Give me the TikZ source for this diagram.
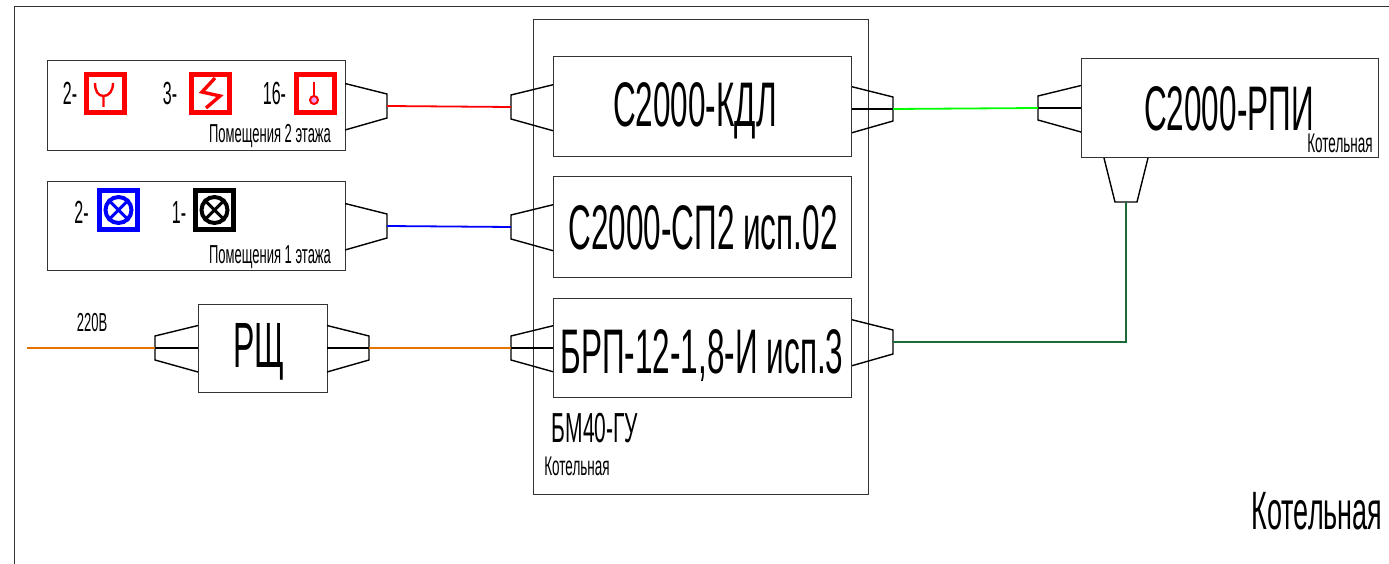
\documentclass[tikz,border=0pt]{standalone}
\usepackage{fontspec}
\setmainfont[FakeStretch=0.5]{Liberation Sans}
\usetikzlibrary{calc}
\definecolor{zelen}{RGB}{26,107,56}
\definecolor{oranzh}{RGB}{230,115,0}
\definecolor{rozov}{RGB}{240,160,240}
\tikzset{
  blok/.style   = {rectangle, draw=black!80, line width=1pt, fill=white, inner sep=0},
  lbl/.style    = {inner sep=0, anchor=base, text=black},
  num/.style    = {lbl, font=\fontsize{32}{32}\selectfont},
  znak/.style   = {rectangle, draw, line width=5pt, fill=white, minimum size=38pt, inner sep=0},
  krug/.style   = {circle, draw, line width=4pt, minimum size=26pt, inner sep=0},
  link/.style   = {line width=1.8pt},
  conn/.style   = {line width=1.4pt, black}
}
% connector shells on the side of a box, the middle of that side is given
\newcommand{\konL}[1]{\draw[conn] ($(#1)+(0,-22.5)$) -- ++(-43,10.5) -- ++(0,24) -- ++(43,12);}
\newcommand{\konR}[1]{\draw[conn] ($(#1)+(0,-22.5)$) -- ++(42,10.5) -- ++(0,24) -- ++(-42,12);}
\newcommand{\midL}[1]{\draw[conn] ($(#1)+(-43,0)$) -- (#1);}
\newcommand{\midR}[1]{\draw[conn] ($(#1)+(42,0)$) -- (#1);}
\begin{document}
\begin{tikzpicture}[x=1pt,y=-1pt]
  \useasboundingbox (0,0) rectangle (1389,564);
  \coordinate (fl) at (14,564); \coordinate (fc) at (14,7); \coordinate (fr) at (1389,7);
  \draw[line width=1pt, black!80] (fl) -- (fc) -- (fr);

  \node[blok, minimum width=335pt, minimum height=474pt] (bm) at (700.5,257) {};
  \node[blok, minimum width=298pt, minimum height=90pt] (p2) at (196,106) {};
  \node[blok, minimum width=298pt, minimum height=88pt] (p1) at (196,226) {};
  \node[blok, minimum width=129pt, minimum height=88pt] (rsh) at (262.5,348) {};

  % connectors
  \coordinate (p2r) at (345,106); \coordinate (p1r) at (345,226);
  \coordinate (rl) at (198,348); \coordinate (rr) at (327,348);
  \coordinate (kl) at (554,107); \coordinate (kr) at (851,109);
  \coordinate (sl) at (554,227); \coordinate (bl) at (554,348); \coordinate (br) at (851,342);
  \coordinate (rpl) at (1081,108); \coordinate (rd) at (1126,158);
  \konR{p2r} \konR{p1r} \konR{rr} \konR{kr} \konR{br}
  \konL{rl} \konL{kl} \konL{sl} \konL{bl} \konL{rpl}
  \midR{rr} \midR{kr} \midL{rl} \midL{bl} \midL{rpl}
  \draw[conn] ($(rd)+(-22,0)$) -- ++(11,44) -- ++(22,0) -- ++(11,-44);

  \node[blok, minimum width=298pt, minimum height=100pt] (kdl) at (702,107) {};
  \node[blok, minimum width=298pt, minimum height=100pt] (sp) at (702,227) {};
  \node[blok, minimum width=298pt, minimum height=99pt] (brp) at (702,347.5) {};
  \node[blok, minimum width=297pt, minimum height=99pt] (rpi) at (1229.5,108.5) {};

  % wires
  \coordinate (v220) at (27,348);
  \draw[link, red] ($(p2r)+(42,0)$) -- ($(kl)+(-43,0)$);
  \draw[link, blue] ($(p1r)+(42,0)$) -- ($(sl)+(-43,0)$);
  \draw[link, oranzh] (v220) -- ($(rl)+(-43,0)$);
  \draw[link, oranzh] ($(rr)+(42,0)$) -- ($(bl)+(-43,0)$);
  \draw[link, green] ($(kr)+(42,0)$) -- ($(rpl)+(-43,0)$);
  \draw[link, zelen] ($(br)+(42,0)$) -| ($(rd)+(0,44)$);

  % signs
  \node[znak, draw=red] (s1) at (105.5,93.5) {};
  \draw[red, line width=2.4pt] (103.5,107) -- (103.5,96) (95,83) .. controls (95,91) and (98,96) .. (103.5,96) .. controls (109,96) and (113,91) .. (113,83);
  \node[znak, draw=red] (s2) at (210,93.5) {};
  \draw[red, line width=3.4pt] (215,78) -- (202,92) -- (220,96) -- (206,108);
  \node[znak, draw=red] (s3) at (315,93.5) {};
  \draw[red, line width=2pt] (314,82) -- (314,96);
  \node[circle, draw=red, line width=2pt, fill=rozov, minimum size=8pt, inner sep=0] (s3c) at (314,100) {};
  \node[znak, draw=blue] (s4) at (118.5,210) {};
  \node[krug, draw=blue] (s4c) at (118.5,210) {};
  \draw[blue, line width=3pt] (s4c.45) -- (s4c.225) (s4c.135) -- (s4c.315);
  \node[znak, draw=black] (s5) at (214.5,210) {};
  \node[krug, draw=black] (s5c) at (214.5,210) {};
  \draw[black, line width=3pt] (s5c.45) -- (s5c.225) (s5c.135) -- (s5c.315);

  % labels
  \node[num] at (70,105) {2-};
  \node[num] at (170,105) {3-};
  \node[num] at (274.5,105) {16-};
  \node[num] at (81.5,223) {2-};
  \node[num] at (179,223) {1-};
  \node[lbl, font=\fontsize{26}{26}\selectfont] at (270,143) {Помещения 2 этажа};
  \node[lbl, font=\fontsize{26}{26}\selectfont] at (270,263) {Помещения 1 этажа};
  \node[lbl, font=\fontsize{26}{26}\selectfont] at (92,331) {220В};
  \node[lbl, font=\fontsize{64}{64}\selectfont] at (259,367) {РЩ};
  \node[lbl, font=\fontsize{63}{63}\selectfont] at (695,127) {С2000-КДЛ};
  \node[lbl, font=\fontsize{63}{63}\selectfont] at (703,249) {С2000-СП2 исп.02};
  \node[lbl, font=\fontsize{63}{63}\selectfont] at (702,373) {БРП-12-1,8-И исп.3};
  \node[lbl, font=\fontsize{63}{63}\selectfont] at (1229,131) {С2000-РПИ};
  \node[lbl, font=\fontsize{27}{27}\selectfont] at (1340,153) {Котельная};
  \node[lbl, font=\fontsize{42}{42}\selectfont] at (595,442) {БМ40-ГУ};
  \node[lbl, font=\fontsize{27}{27}\selectfont] at (577,475) {Котельная};
  \node[lbl, font=\fontsize{54}{54}\selectfont] at (1317,529) {Котельная};
\end{tikzpicture}
\end{document}
